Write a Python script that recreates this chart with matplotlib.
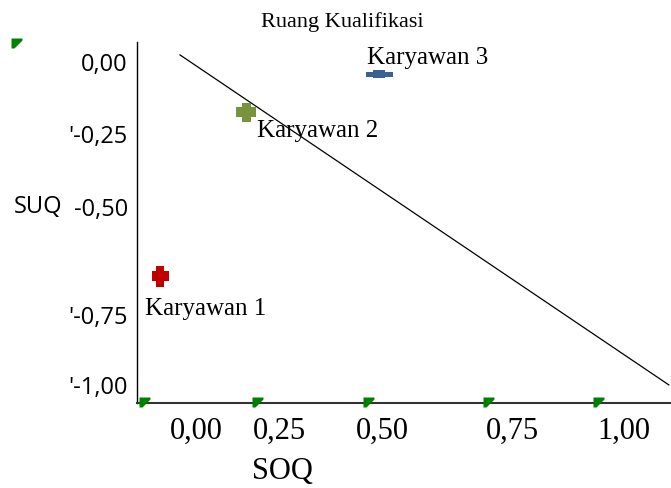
import matplotlib.pyplot as plt
import matplotlib.transforms as mtransforms
from matplotlib.path import Path

W, H, DPI = 671, 488, 100

# points in the qualification space
names = ["Karyawan 1", "Karyawan 2", "Karyawan 3"]
soq = [0.035, 0.224, 0.515]
suq = [-0.667, -0.156, -0.037]
colors = ["#c00000", "#77933c", "#3a6196"]

# diagonal boundary line
line_soq = [0.079, 1.151]
line_suq = [0.022, -1.006]

# axis labels (placed as in the original, not evenly)
xtick_pos = [0.114, 0.298, 0.522, 0.807, 1.053]
xtick_labels = ["0,00", "0,25", "0,50", "0,75", "1,00"]
xmark_pos = [0.0, 0.248, 0.491, 0.754, 0.995]
ytick_pos = [0.0, -0.224, -0.452, -0.788, -1.006]
ytick_labels = ["0,00", "'-0,25", "-0,50", "'-0,75", "'-1,00"]

serif = "Liberation Serif"
sans = "Open Sans"


def plus_marker(w, h, aw, ah):
    v = [(-aw, h), (aw, h), (aw, ah), (w, ah), (w, -ah), (aw, -ah),
         (aw, -h), (-aw, -h), (-aw, -ah), (-w, -ah), (-w, ah), (-aw, ah), (-aw, h)]
    return Path(v, closed=True)


# marker shapes in pixels (half width, half height, arm half widths)
shapes = [(8.5, 10.5, 4, 5), (10, 9.5, 4.5, 5), (13.5, 4, 6, 2.5)]
label_offsets = [(-15, -39), (11, -25), (-12, 10)]

flag = Path([(-5, 6), (6, 6), (6, 4), (-2, -4), (-5, -4), (-5, 6)], closed=True)
flag_size = 12 * 72 / DPI
green = "#008000"

fig = plt.figure(figsize=(W / DPI, H / DPI), dpi=DPI)
ax = fig.add_axes([137 / W, (H - 403) / H, (W - 137) / W, (403 - 42) / H])
ax.set_xlim(-7 / 456, 527 / 456)
ax.set_ylim((62 - 403) / 321, (62 - 42) / 321)

ax.plot(line_soq, line_suq, color="black", lw=0.9)

for i in range(len(names)):
    w, h, aw, ah = shapes[i]
    ax.plot(soq[i], suq[i], linestyle="None", marker=plus_marker(w, h, aw, ah),
            markersize=2 * max(w, h) * 72 / DPI, color=colors[i], mew=0, zorder=3)
    ax.annotate(names[i], (soq[i], suq[i]), xytext=label_offsets[i],
                textcoords="offset pixels", ha="left", va="baseline",
                fontsize=18, family=serif)

# green flag markers along the bottom axis and one at the top left
ax.plot(xmark_pos, [0] * len(xmark_pos), linestyle="None", marker=flag,
        markersize=flag_size, color=green, mew=0, clip_on=False,
        transform=ax.get_xaxis_transform(), zorder=4)
tr = mtransforms.blended_transform_factory(fig.transFigure, ax.transAxes)
ax.plot([16 / W], [0.994], linestyle="None", marker=flag, markersize=flag_size,
        color=green, mew=0, clip_on=False, transform=tr, zorder=4)

ax.set_xticks(xtick_pos)
ax.set_xticklabels(xtick_labels, family=serif, fontsize=22)
ax.set_yticks(ytick_pos)
ax.set_yticklabels(ytick_labels, family=sans, fontsize=17)
ax.tick_params(axis="x", length=0, pad=10)
ax.tick_params(axis="y", length=0, pad=6.5)

for s in ["top", "right"]:
    ax.spines[s].set_visible(False)
ax.spines["left"].set_linewidth(1.0)
ax.spines["left"].set_color("black")
ax.spines["bottom"].set_linewidth(1.5)
ax.spines["bottom"].set_color("#333333")

ax.set_xlabel("SOQ", family=serif, fontsize=22)
ax.xaxis.set_label_coords((282 - 137) / (W - 137), (403 - 471) / (403 - 42))
ax.xaxis.label.set_va("center")
ax.set_ylabel("SUQ", family=sans, fontsize=17, rotation=0, ha="right", va="center")
ax.yaxis.set_label_coords((62 - 137) / (W - 137), (403 - 207) / (403 - 42))

ax.text((342 - 137) / (W - 137), (403 - 22) / (403 - 42), "Ruang Kualifikasi",
        transform=ax.transAxes, ha="center", va="center", family=serif, fontsize=16)

fig.savefig("out.png", dpi=DPI)
